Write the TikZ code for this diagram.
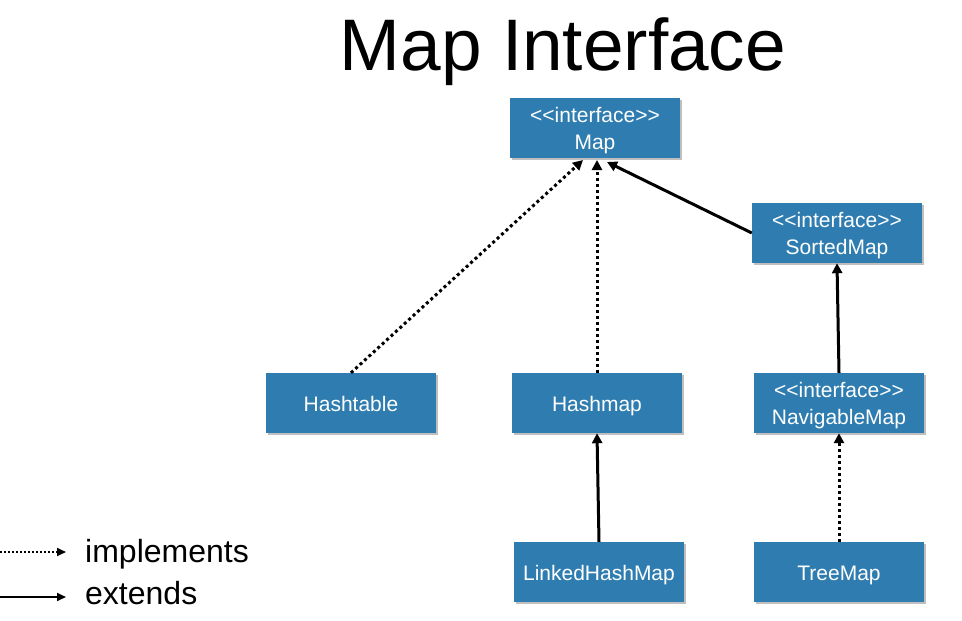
\documentclass[tikz,border=0pt]{standalone}
\usepackage{fontspec}
\setmainfont[Ligatures=NoCommon]{Liberation Sans}
\usetikzlibrary{arrows.meta,shadows}
\definecolor{boxblue}{HTML}{2F7DB0}
\newcommand{\ltlt}{{<}{<}}
\newcommand{\gtgt}{{>}{>}}
\tikzset{
  box/.style={draw=none,fill=boxblue,text=white,minimum width=170pt,minimum height=60pt,
    inner sep=0pt,align=center,font=\fontsize{21}{27}\selectfont,
    drop shadow={shadow xshift=2pt,shadow yshift=-2pt,opacity=0.5,fill=gray}},
  cls/.style={box,text height=21pt,text depth=4.5pt},
  itext/.style={text=white,inner sep=0pt,align=center,font=\fontsize{21}{27}\selectfont},
  impl/.style={line width=3pt,dash pattern=on 3pt off 3pt,-{Triangle[length=10pt,width=10pt]}},
  ext/.style={line width=3pt,-{Triangle[length=10pt,width=10pt]}},
}
\begin{document}
\begin{tikzpicture}[x=1pt,y=-1pt]
\useasboundingbox (0,0) rectangle (962,621);
\node (title) at (563,52) {\fontsize{73}{80}\selectfont Map Interface};
\node[box] (map) at (595,128) {};
\node[itext] (maptext) at ([yshift=-3pt]map.center) {\ltlt interface\gtgt\\Map};
\node[box] (sorted) at (837,233) {};
\node[itext] (sortedtext) at ([yshift=-3pt]sorted.center) {\ltlt interface\gtgt\\SortedMap};
\node[cls] (hashtable) at (351,403) {Hashtable};
\node[cls] (hashmap) at (597,403) {Hashmap};
\node[box] (nav) at (839,403) {};
\node[itext] (navtext) at ([yshift=-3pt]nav.center) {\ltlt interface\gtgt\\NavigableMap};
\node[cls] (linked) at (599,572) {LinkedHashMap};
\node[cls] (tree) at (839,572) {TreeMap};
\coordinate (mapA) at (583,160);
\coordinate (mapB) at (597,160);
\coordinate (mapC) at (607,162);
\draw[impl] (hashtable.north) -- (mapA);
\draw[impl] (hashmap.north) -- (mapB);
\draw[ext] (sorted.west) -- (mapC);
\draw[ext] (nav.north) -- (sorted.south);
\draw[ext] (linked.north) -- (hashmap.south);
\draw[impl] (tree.north) -- (nav.south);
\coordinate (l1a) at (0,552);
\coordinate (l1b) at (66,552);
\coordinate (l2a) at (0,597);
\coordinate (l2b) at (66,597);
\draw[impl,line width=2pt,dash pattern=on 2pt off 2pt,-{Triangle[length=9pt,width=8pt]}] (l1a) -- (l1b);
\draw[ext,line width=2pt,-{Triangle[length=9pt,width=8pt]}] (l2a) -- (l2b);
\node[anchor=west,inner sep=0pt,font=\fontsize{32}{36}\selectfont] (limpl) at (85,554) {implements};
\node[anchor=west,inner sep=0pt,font=\fontsize{32}{36}\selectfont] (lext) at (85,593) {extends};
\end{tikzpicture}
\end{document}
